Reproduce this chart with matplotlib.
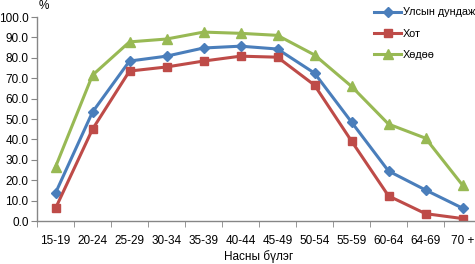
import matplotlib
matplotlib.use("Agg")
import matplotlib.pyplot as plt
import numpy as np

plt.rcParams['font.family'] = ['Liberation Sans', 'DejaVu Sans']

categories = ["15-19", "20-24", "25-29", "30-34", "35-39", "40-44", "45-49",
              "50-54", "55-59", "60-64", "64-69", "70 +"]
national = [13.7, 53.4, 78.4, 80.8, 84.8, 85.7, 84.3, 72.5, 48.5, 24.5, 15.2, 6.3]
urban = [6.2, 45.0, 73.5, 75.5, 78.4, 80.8, 80.3, 66.6, 39.2, 12.3, 3.6, 1.2]
rural = [26.5, 71.5, 87.8, 89.2, 92.6, 92.0, 91.0, 81.4, 66.0, 47.5, 40.6, 17.6]
series_names = ["Улсын дундаж", "Хот", "Хөдөө"]
yticks = [0, 10, 20, 30, 40, 50, 60, 70, 80, 90, 100]

W, H = 475, 264
fig = plt.figure(figsize=(W / 100, H / 100), dpi=100)
ax = fig.add_axes([37 / W, 1 - 221 / H, 444 / W, 204 / H])

x = np.arange(len(categories))
ax.plot(x, national, color="#4A7EBB", lw=2.2, marker="D", ms=5, label=series_names[0])
ax.plot(x, urban, color="#BE4B48", lw=2.2, marker="s", ms=6, label=series_names[1])
ax.plot(x, rural, color="#98B954", lw=2.2, marker="^", ms=6.5, label=series_names[2])

ax.set_xlim(-0.5, len(categories) - 0.5)
ax.set_ylim(0, 100)
ax.set_yticks(yticks)
ax.set_yticklabels([f"{v:.1f}" for v in yticks])
ax.set_xticks(x)
ax.set_xticklabels(categories)
ax.set_xticks(np.arange(-0.5, len(categories)), minor=True)
ax.tick_params(axis="x", which="major", length=0, pad=10, labelsize=8.5, colors="#000000")
ax.tick_params(axis="x", which="minor", length=4, color="#868686", direction="out")
ax.tick_params(axis="y", length=4, color="#868686", labelsize=8.5, pad=2)

for s in ["top", "right"]:
    ax.spines[s].set_visible(False)
for s in ["left", "bottom"]:
    ax.spines[s].set_color("#868686")
    ax.spines[s].set_linewidth(1)

ax.set_xlabel("Насны бүлэг", fontsize=8.5, labelpad=2)
fig.text(39 / W, 1 - 6 / H, "%", fontsize=8.5, ha="left", va="center")

leg = fig.legend(loc="upper left", bbox_to_anchor=(370 / W, 1 - 3 / H), frameon=False,
                 fontsize=7.8, handlelength=2.5, handletextpad=0.15, labelspacing=1.05,
                 borderaxespad=0)

fig.savefig("out.png", dpi=100)
